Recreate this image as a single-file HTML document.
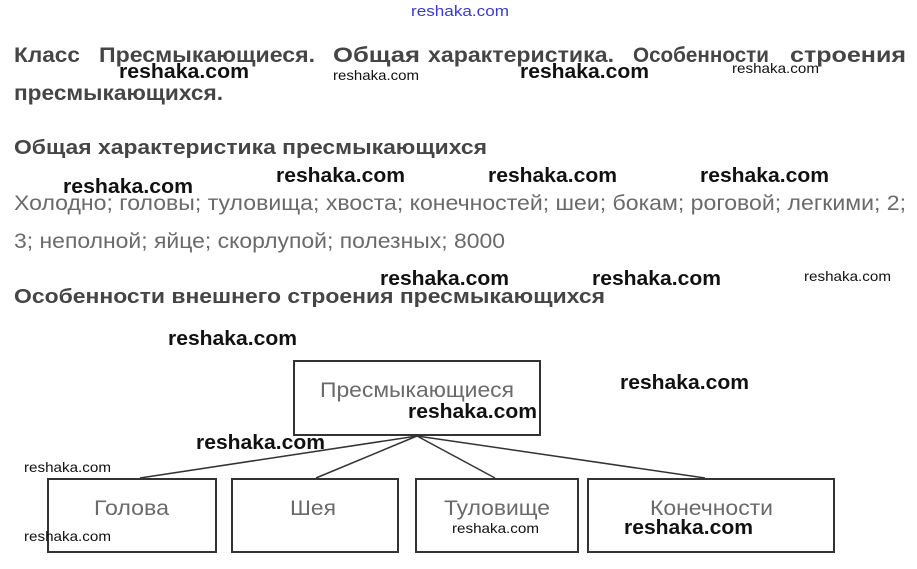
<!DOCTYPE html>
<html><head><meta charset="utf-8"><style>
html,body{margin:0;padding:0;background:#fff;}
svg{display:block;}
.h{font-family:"Liberation Sans",sans-serif;font-weight:bold;fill:#454545;}
.b{font-family:"Liberation Sans",sans-serif;fill:#6a6a6a;}
.w{font-family:"Liberation Sans",sans-serif;font-weight:bold;fill:#111;}
</style></head><body>
<svg width="917" height="569" viewBox="0 0 917 569" xmlns="http://www.w3.org/2000/svg">
<text x="411" y="16" font-size="15" textLength="98" lengthAdjust="spacingAndGlyphs" style="font-family:'Liberation Sans',sans-serif;fill:#3a3ad0">reshaka.com</text>
<g class="h" font-size="21">
<text x="14" y="62" textLength="66" lengthAdjust="spacingAndGlyphs">Класс</text>
<text x="99" y="62" textLength="216" lengthAdjust="spacingAndGlyphs">Пресмыкающиеся.</text>
<text x="333" y="62" textLength="87" lengthAdjust="spacingAndGlyphs">Общая</text>
<text x="428" y="62" textLength="186" lengthAdjust="spacingAndGlyphs">характеристика.</text>
<text x="633" y="62" textLength="136" lengthAdjust="spacingAndGlyphs">Особенности</text>
<text x="790" y="62" textLength="116" lengthAdjust="spacingAndGlyphs">строения</text>
</g>
<text class="h" x="14" y="100" font-size="21" textLength="209" lengthAdjust="spacingAndGlyphs">пресмыкающихся.</text>
<text class="h" x="14" y="154" font-size="20" textLength="473" lengthAdjust="spacingAndGlyphs">Общая характеристика пресмыкающихся</text>
<text class="b" x="14" y="210" font-size="21" textLength="892" lengthAdjust="spacingAndGlyphs">Холодно; головы; туловища; хвоста; конечностей; шеи; бокам; роговой; легкими; 2;</text>
<text class="b" x="14" y="248" font-size="21" textLength="491" lengthAdjust="spacingAndGlyphs">3; неполной; яйце; скорлупой; полезных; 8000</text>
<text class="h" x="14" y="303" font-size="20" textLength="591" lengthAdjust="spacingAndGlyphs">Особенности внешнего строения пресмыкающихся</text>

<g fill="#fff" stroke="#333" stroke-width="2">
<rect x="294" y="361" width="246" height="74"/>
<rect x="48" y="479" width="168" height="73"/>
<rect x="232" y="479" width="166" height="73"/>
<rect x="416" y="479" width="162" height="73"/>
<rect x="588" y="479" width="246" height="73"/>
</g>
<g stroke="#333" stroke-width="1.5">
<line x1="417" y1="436" x2="140" y2="478"/>
<line x1="417" y1="436" x2="316" y2="478"/>
<line x1="417" y1="436" x2="495" y2="478"/>
<line x1="417" y1="436" x2="705" y2="478"/>
</g>
<text class="b" x="320" y="397" font-size="21" textLength="194" lengthAdjust="spacingAndGlyphs">Пресмыкающиеся</text>
<text class="b" x="94" y="515" font-size="21" textLength="75" lengthAdjust="spacingAndGlyphs">Голова</text>
<text class="b" x="290" y="515" font-size="21" textLength="46" lengthAdjust="spacingAndGlyphs">Шея</text>
<text class="b" x="444" y="515" font-size="21" textLength="106" lengthAdjust="spacingAndGlyphs">Туловище</text>
<text class="b" x="650" y="515" font-size="21" textLength="123" lengthAdjust="spacingAndGlyphs">Конечности</text>

<g class="w">
<text x="119" y="78" font-size="20" textLength="130" lengthAdjust="spacingAndGlyphs">reshaka.com</text>
<text x="333" y="80" font-size="14" textLength="86" lengthAdjust="spacingAndGlyphs" font-weight="normal">reshaka.com</text>
<text x="520" y="78" font-size="20" textLength="129" lengthAdjust="spacingAndGlyphs">reshaka.com</text>
<text x="732" y="73" font-size="14" textLength="87" lengthAdjust="spacingAndGlyphs" font-weight="normal">reshaka.com</text>
<text x="63" y="193" font-size="20" textLength="130" lengthAdjust="spacingAndGlyphs">reshaka.com</text>
<text x="276" y="182" font-size="20" textLength="129" lengthAdjust="spacingAndGlyphs">reshaka.com</text>
<text x="488" y="182" font-size="20" textLength="129" lengthAdjust="spacingAndGlyphs">reshaka.com</text>
<text x="700" y="182" font-size="20" textLength="129" lengthAdjust="spacingAndGlyphs">reshaka.com</text>
<text x="380" y="285" font-size="20" textLength="129" lengthAdjust="spacingAndGlyphs">reshaka.com</text>
<text x="592" y="285" font-size="20" textLength="129" lengthAdjust="spacingAndGlyphs">reshaka.com</text>
<text x="804" y="281" font-size="14" textLength="87" lengthAdjust="spacingAndGlyphs" font-weight="normal">reshaka.com</text>
<text x="168" y="345" font-size="20" textLength="129" lengthAdjust="spacingAndGlyphs">reshaka.com</text>
<text x="620" y="389" font-size="20" textLength="129" lengthAdjust="spacingAndGlyphs">reshaka.com</text>
<text x="408" y="418" font-size="20" textLength="129" lengthAdjust="spacingAndGlyphs">reshaka.com</text>
<text x="196" y="449" font-size="20" textLength="129" lengthAdjust="spacingAndGlyphs">reshaka.com</text>
<text x="24" y="472" font-size="14" textLength="87" lengthAdjust="spacingAndGlyphs" font-weight="normal">reshaka.com</text>
<text x="452" y="533" font-size="14" textLength="87" lengthAdjust="spacingAndGlyphs" font-weight="normal">reshaka.com</text>
<text x="624" y="534" font-size="20" textLength="129" lengthAdjust="spacingAndGlyphs">reshaka.com</text>
<text x="24" y="541" font-size="14" textLength="87" lengthAdjust="spacingAndGlyphs" font-weight="normal">reshaka.com</text>
</g>
</svg>
</body></html>
